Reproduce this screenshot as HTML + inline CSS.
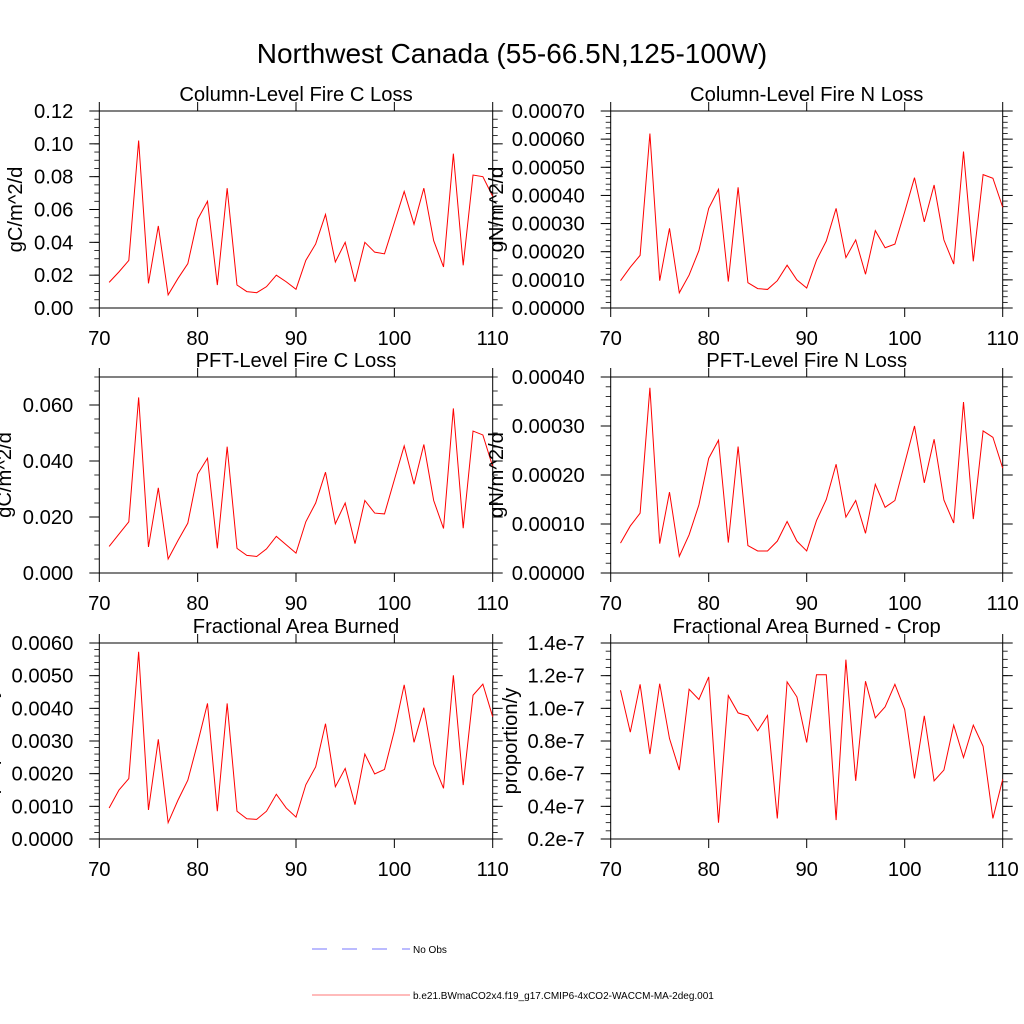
<!DOCTYPE html>
<html><head><meta charset="utf-8"><style>
html,body{margin:0;padding:0;background:#fff;}
svg{display:block;font-family:"Liberation Sans",sans-serif;}
</style></head><body>
<svg id="chart" width="1024" height="1024" viewBox="0 0 1024 1024">
<text x="512" y="63" font-size="28" text-anchor="middle">Northwest Canada (55-66.5N,125-100W)</text>
<g>
<line x1="312" y1="949" x2="410" y2="949" stroke="#7777ff" stroke-width="1" stroke-dasharray="15,15"/>
<text x="413" y="953" font-size="10">No Obs</text>
<line x1="312" y1="995" x2="410" y2="995" stroke="#ff7777" stroke-width="1"/>
<text x="413" y="999" font-size="10">b.e21.BWmaCO2x4.f19_g17.CMIP6-4xCO2-WACCM-MA-2deg.001</text>
</g>
</svg>
<script>
const years = [];
for (let y = 71; y <= 110; y++) years.push(y);
const xTicks = [70, 80, 90, 100, 110];

const colCLoss = [0.0156,0.022,0.029,0.102,0.015,0.050,0.008,0.018,0.027,0.054,0.065,0.014,0.073,0.014,0.010,0.0093,0.013,0.020,0.016,0.0114,0.029,0.039,0.057,0.028,0.040,0.016,0.040,0.034,0.033,0.052,0.071,0.051,0.073,0.041,0.025,0.094,0.026,0.081,0.080,0.068];
const colCTicks = [0, 0.02, 0.04, 0.06, 0.08, 0.10, 0.12];
const colCTickLabels = ["0.00","0.02","0.04","0.06","0.08","0.10","0.12"];

const colNLoss = [0.000097,0.000145,0.000187,0.00062,0.000097,0.000283,0.000054,0.000117,0.000204,0.000354,0.000422,0.000094,0.000429,0.00009,0.000069,0.000066,0.000097,0.000152,0.0001,0.000071,0.00017,0.000238,0.000354,0.000179,0.000242,0.00012,0.000275,0.000214,0.000227,0.000342,0.000463,0.000306,0.000437,0.000242,0.000156,0.000556,0.000166,0.000474,0.000461,0.000358];
const colNTicks = [0,0.0001,0.0002,0.0003,0.0004,0.0005,0.0006,0.0007];
const colNTickLabels = ["0.00000","0.00010","0.00020","0.00030","0.00040","0.00050","0.00060","0.00070"];

const pftCLoss = [0.0095,0.0139,0.0183,0.0627,0.0093,0.0304,0.005,0.0116,0.0178,0.0353,0.041,0.0088,0.0451,0.0088,0.0063,0.0059,0.0086,0.0131,0.0101,0.0071,0.0183,0.025,0.036,0.0176,0.025,0.0105,0.0259,0.0214,0.0211,0.0333,0.0454,0.0317,0.0459,0.0259,0.0159,0.0588,0.016,0.0507,0.0493,0.038];
const pftCTicks = [0, 0.02, 0.04, 0.06];
const pftCTickLabels = ["0.000","0.020","0.040","0.060"];

const pftNLoss = [0.000061,0.000096,0.000122,0.000378,0.00006,0.000165,0.000034,0.000078,0.000139,0.000234,0.000271,0.000062,0.000258,0.000056,0.000045,0.000045,0.000065,0.000105,0.000065,0.000045,0.000107,0.00015,0.000222,0.000114,0.000148,0.000081,0.000181,0.000134,0.000148,0.000224,0.0003,0.000184,0.000273,0.000149,0.000102,0.000349,0.00011,0.00029,0.000277,0.000214];
const pftNTicks = [0,0.0001,0.0002,0.0003,0.0004];
const pftNTickLabels = ["0.00000","0.00010","0.00020","0.00030","0.00040"];

const fracBurned = [0.00095,0.0015,0.00185,0.00573,0.00089,0.00305,0.0005,0.00119,0.0018,0.00294,0.00415,0.00085,0.00415,0.00085,0.00062,0.0006,0.00085,0.00137,0.00095,0.00067,0.00166,0.00221,0.00353,0.0016,0.00216,0.00105,0.0026,0.00199,0.00213,0.00331,0.00472,0.00296,0.00402,0.00229,0.00155,0.00501,0.00165,0.0044,0.00474,0.00374];
const fracTicks = [0,0.001,0.002,0.003,0.004,0.005,0.006];
const fracTickLabels = ["0.0000","0.0010","0.0020","0.0030","0.0040","0.0050","0.0060"];

const fracCrop = [1.111,0.854,1.147,0.72,1.151,0.815,0.622,1.117,1.054,1.192,0.30,1.078,0.972,0.954,0.862,0.956,0.326,1.162,1.07,0.791,1.206,1.206,0.316,1.298,0.556,1.166,0.942,1.009,1.147,0.993,0.571,0.954,0.556,0.622,0.897,0.699,0.897,0.768,0.326,0.565];
const cropTicks = [0.2,0.4,0.6,0.8,1.0,1.2,1.4];
const cropTickLabels = ["0.2e-7","0.4e-7","0.6e-7","0.8e-7","1.0e-7","1.2e-7","1.4e-7"];

const NS = "http://www.w3.org/2000/svg";
const svg = document.getElementById('chart');
function mk(tag, attrs, parent) {
  const e = document.createElementNS(NS, tag);
  for (const k in attrs) e.setAttribute(k, attrs[k]);
  parent.appendChild(e);
  return e;
}

function panel(id, title, ylabel, box, ymin, ymax, minorStep, ticks, tickLabels, values, ylabX) {
  const g = mk('g', {}, svg);
  
  
  const [L, T, R, B] = box;
  const xs = v => L + (v - 70) / 40 * (R - L);
  const ys = v => B - (v - ymin) / (ymax - ymin) * (B - T);
  const t = mk('text', {x: (L + R) / 2, y: T - 10, 'font-size': 20.2, 'text-anchor': 'middle'}, g);
  t.textContent = title;
  
  
  const yl = mk('text', {x: ylabX, y: (T + B) / 2, 'font-size': 20.2, 'text-anchor': 'middle', transform: 'rotate(-90 ' + ylabX + ' ' + (T + B) / 2 + ')'}, g);
  yl.textContent = ylabel;
  
  
  const nMin = Math.round((ymax - ymin) / minorStep);
  for (let i = 0; i <= nMin; i++) {
    const yy = ys(ymin + i * minorStep);
    mk('line', {x1: L - 5, y1: yy, x2: L, y2: yy, stroke: '#000', 'stroke-width': 0.8}, g);
    mk('line', {x1: R, y1: yy, x2: R + 5, y2: yy, stroke: '#000', 'stroke-width': 0.8}, g);
  }
  ticks.forEach((v, i) => {
    const yy = ys(v);
    mk('line', {x1: L - 10, y1: yy, x2: L, y2: yy, stroke: '#000', 'stroke-width': 1}, g);
    mk('line', {x1: R, y1: yy, x2: R + 10, y2: yy, stroke: '#000', 'stroke-width': 1}, g);
    const tl = mk('text', {x: L - 26, y: yy + 7, 'font-size': 20.2, 'text-anchor': 'end'}, g);
    tl.textContent = tickLabels[i];
    
    
  });
  xTicks.forEach(v => {
    const xx = xs(v);
    mk('line', {x1: xx, y1: B, x2: xx, y2: B + 9, stroke: '#000', 'stroke-width': 1}, g);
    mk('line', {x1: xx, y1: T, x2: xx, y2: T - 9, stroke: '#000', 'stroke-width': 1}, g);
    const tl = mk('text', {x: xx, y: B + 37, 'font-size': 20.2, 'text-anchor': 'middle'}, g);
    tl.textContent = String(v);
    
    
  });
  const fr = mk('rect', {x: L, y: T, width: R - L, height: B - T, fill: 'none', stroke: '#000', 'stroke-width': 1}, g);
  
  
  const pts = values.map((v, i) => xs(years[i]).toFixed(2) + ',' + ys(v).toFixed(2)).join(' ');
  const pl = mk('polyline', {points: pts, fill: 'none', stroke: '#ff0000', 'stroke-width': 1}, g);
  
  
}

const LB = [99.3, 492.7], RB = [610.7, 1002.7];
panel('column-c-loss', 'Column-Level Fire C Loss', 'gC/m^2/d', [LB[0], 111, LB[1], 308], 0, 0.12, 0.005, colCTicks, colCTickLabels, colCLoss, 22);
panel('column-n-loss', 'Column-Level Fire N Loss', 'gN/m^2/d', [RB[0], 111, RB[1], 308], 0, 0.0007, 0.00002, colNTicks, colNTickLabels, colNLoss, 503);
panel('pft-c-loss', 'PFT-Level Fire C Loss', 'gC/m^2/d', [LB[0], 377, LB[1], 573], 0, 0.07, 0.005, pftCTicks, pftCTickLabels, pftCLoss, 11);
panel('pft-n-loss', 'PFT-Level Fire N Loss', 'gN/m^2/d', [RB[0], 377, RB[1], 573], 0, 0.0004, 0.00002, pftNTicks, pftNTickLabels, pftNLoss, 503);
panel('frac-burned', 'Fractional Area Burned', 'proportion/y', [LB[0], 643, LB[1], 839], 0, 0.006, 0.0002, fracTicks, fracTickLabels, fracBurned, -3);
panel('frac-burned-crop', 'Fractional Area Burned - Crop', 'proportion/y', [RB[0], 643, RB[1], 839], 0.2, 1.4, 0.05, cropTicks, cropTickLabels, fracCrop, 517);
</script>
</body></html>
